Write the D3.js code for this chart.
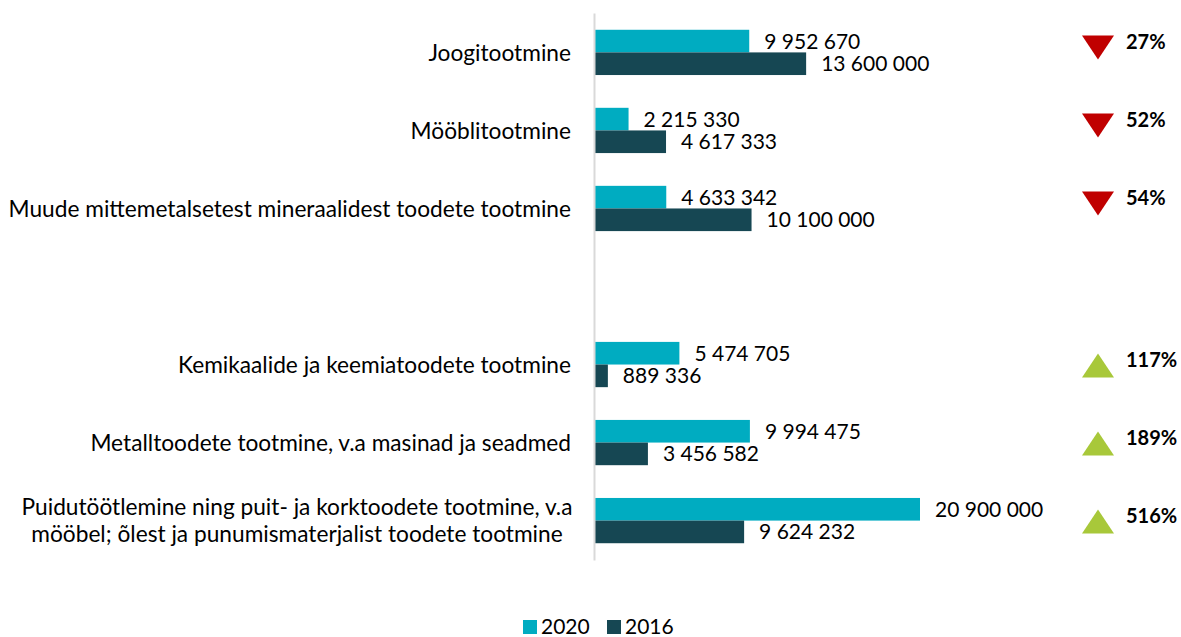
<!DOCTYPE html>
<html>
<head>
<meta charset="utf-8">
<script src="https://cdn.jsdelivr.net/npm/d3@7"></script>
<style>
  html, body { margin: 0; padding: 0; background: #fff; }
  svg { display: block; font-family: Lato, "Open Sans", sans-serif; }
</style>
</head>
<body>
<svg id="chart" width="1181" height="637"></svg>
<script>
// ---- data ----
const categories = [
  "Joogitootmine",
  "Mööblitootmine",
  "Muude mittemetalsetest mineraalidest toodete tootmine",
  " ",
  "Kemikaalide ja keemiatoodete tootmine",
  "Metalltoodete tootmine, v.a masinad ja seadmed",
  "Puidutöötlemine ning puit- ja korktoodete tootmine, v.a\nmööbel; õlest ja punumismaterjalist toodete tootmine"
];
const seriesNames = ["2020", "2016"];
const values2020 = [9952670, 2215330, 4633342, null, 5474705, 9994475, 20900000];
const values2016 = [13600000, 4617333, 10100000, null, 889336, 3456582, 9624232];
const changeLabels = ["27%", "52%", "54%", null, "117%", "189%", "516%"];
const changeDirection = ["down", "down", "down", null, "up", "up", "up"];

// ---- styles ----
const colors = { "2020": "#00ACC1", "2016": "#164753" };
const triColors = { down: "#C00000", up: "#A8C83A" };

const svg = d3.select("#chart");
const x0 = 594, xMaxPx = 920;
const x = d3.scaleLinear().domain([0, 20900000]).range([x0, xMaxPx]);
const y = d3.scaleBand().domain(categories).range([13, 560]).paddingInner(0.42).paddingOuter(0.215);
const ySub = d3.scaleBand().domain(seriesNames).range([0, y.bandwidth()]);

const fmt = v => d3.format(",")(v).replace(/,/g, " ");

const rows = categories.map((c, i) => ({ c, i, v: { "2020": values2020[i], "2016": values2016[i] } }));

// bars
const g = svg.append("g");
seriesNames.forEach(s => {
  const data = rows.filter(r => r.v[s] != null);
  g.selectAll(".bar-" + s).data(data).enter().append("rect")
    .attr("x", x(0))
    .attr("y", d => y(d.c) + ySub(s))
    .attr("width", d => x(d.v[s]) - x(0))
    .attr("height", ySub.bandwidth())
    .attr("fill", colors[s]);
  g.selectAll(".lbl-" + s).data(data).enter().append("text")
    .attr("x", d => x(d.v[s]) + 15)
    .attr("y", d => y(d.c) + ySub(s) + ySub.bandwidth() / 2)
    .attr("dy", "0.36em")
    .attr("font-size", 21)
    .attr("fill", "#000")
    .text(d => fmt(d.v[s]));
});

// category axis
const axis = d3.axisLeft(y).tickSize(0).tickPadding(23).tickFormat(() => "");
const ax = svg.append("g").attr("transform", `translate(${x0},0)`).call(axis);
ax.select(".domain").attr("stroke", "#D9D9D9").attr("stroke-width", 2);
ax.selectAll(".tick").each(function(d) {
  const lines = d.split("\n");
  const t = d3.select(this).append("text")
    .attr("fill", "#000")
    .attr("font-size", 22.7)
    .attr("font-family", "Lato, sans-serif");
  if (lines.length === 1) {
    t.attr("text-anchor", "end").attr("x", -23).attr("dy", "0.36em").text(d);
  } else {
    t.attr("text-anchor", "middle").attr("x", 297 - x0);
    lines.forEach((ln, k) => {
      t.append("tspan").attr("x", 297 - x0)
        .attr("dy", k === 0 ? `${0.36 - 0.6}em` : "1.2em").text(ln);
    });
  }
});

// change markers
const mk = svg.append("g");
rows.forEach(r => {
  const dir = changeDirection[r.i];
  if (!dir) return;
  const cy = y(r.c) + y.bandwidth() / 2;
  const cx = 1098, w = 32, h = 24;
  const tc = dir === "down" ? cy - 5 : cy + 1;
  const pts = dir === "down"
    ? [[cx - w / 2, tc - h / 2], [cx + w / 2, tc - h / 2], [cx, tc + h / 2]]
    : [[cx - w / 2, tc + h / 2], [cx + w / 2, tc + h / 2], [cx, tc - h / 2]];
  mk.append("path").attr("d", d3.line()(pts) + "Z").attr("fill", triColors[dir]);
  mk.append("text")
    .attr("x", 1126)
    .attr("y", dir === "down" ? cy - 3 : cy + 2)
    .attr("font-size", 20)
    .attr("font-weight", "bold")
    .attr("fill", "#000")
    .text(changeLabels[r.i]);
});

// legend
const lg = svg.append("g");
const legendX = [523, 607];
seriesNames.forEach((s, k) => {
  lg.append("rect").attr("x", legendX[k]).attr("y", 620).attr("width", 14).attr("height", 14).attr("fill", colors[s]);
  lg.append("text").attr("x", legendX[k] + 18).attr("y", 634).attr("font-size", 21).attr("fill", "#000").text(s);
});
</script>
</body>
</html>
